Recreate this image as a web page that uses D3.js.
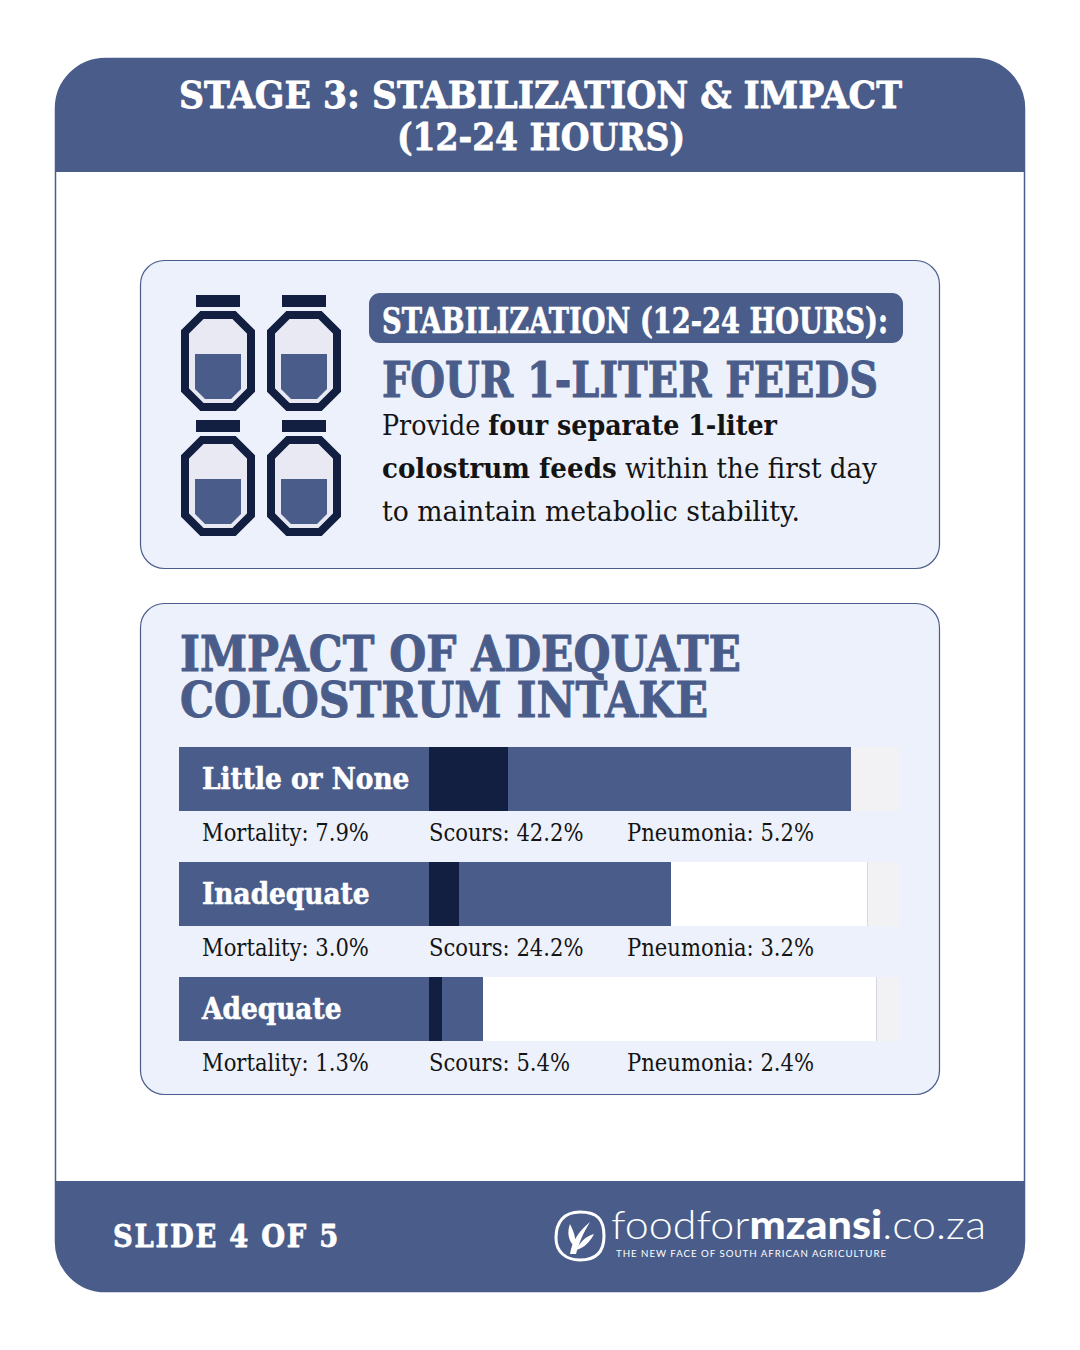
<!DOCTYPE html>
<html>
<head>
<meta charset="utf-8">
<script src="https://cdn.jsdelivr.net/npm/d3@7"></script>
<style>
  html, body { margin: 0; padding: 0; background: #ffffff; }
  svg { display: block; }
</style>
</head>
<body>
<div id="chart"></div>
<script>
// ---------------- DATA ----------------
const categories = ["Little or None", "Inadequate", "Adequate"];
const mortality  = [7.9, 3.0, 1.3];
const scours     = [42.2, 24.2, 5.4];
const pneumonia  = [5.2, 3.2, 2.4];
const trackFill  = [42.0, 43.8, 44.7];   // white inner track extent (same % scale)
const trackMax   = 47.1;                 // end of grey track
const metricNames = ["Mortality", "Scours", "Pneumonia"];
const feeds = [1, 1, 1, 1];              // four 1-liter feeds

// ---------------- STYLE ----------------
const BLUE = "#4a5d8a", NAVY = "#121f40", CARD = "#edf1fb", INK = "#141414";
const SLAB = "'DejaVu Serif', serif";
const SANS = "Lato, 'Open Sans', sans-serif";

const W = 1080, H = 1350;
const svg = d3.select("#chart").append("svg").attr("width", W).attr("height", H);

function fitTo(sel, width) {
  sel.attr("textLength", width).attr("lengthAdjust", "spacingAndGlyphs");
  return sel;
}
function condense(sel, ratio) {
  sel.each(function () {
    const w = this.getComputedTextLength();
    d3.select(this).attr("textLength", w * ratio).attr("lengthAdjust", "spacingAndGlyphs");
  });
  return sel;
}
function heavy(sel, color, sw) {
  return sel.attr("stroke", color).attr("stroke-width", sw).attr("stroke-linejoin", "round");
}

// ---------------- OUTER CARD ----------------
const outer = { x: 55.5, y: 58.5, w: 969, h: 1233, r: 50 };
svg.append("clipPath").attr("id", "outerClip")
  .append("rect").attr("x", outer.x).attr("y", outer.y).attr("width", outer.w)
  .attr("height", outer.h).attr("rx", outer.r);
svg.append("rect").attr("x", outer.x).attr("y", outer.y).attr("width", outer.w)
  .attr("height", outer.h).attr("rx", outer.r).attr("fill", "#fff");
const clipG = svg.append("g").attr("clip-path", "url(#outerClip)");
clipG.append("rect").attr("x", 0).attr("y", 0).attr("width", W).attr("height", 172).attr("fill", BLUE);
clipG.append("rect").attr("x", 0).attr("y", 1181).attr("width", W).attr("height", 200).attr("fill", BLUE);
svg.append("rect").attr("x", outer.x).attr("y", outer.y).attr("width", outer.w)
  .attr("height", outer.h).attr("rx", outer.r).attr("fill", "none")
  .attr("stroke", BLUE).attr("stroke-width", 1.5);

// header title
heavy(fitTo(svg.append("text").attr("x", 179).attr("y", 108).attr("font-family", SLAB)
  .attr("font-weight", "bold").attr("font-size", 37).attr("fill", "#fff")
  .text("STAGE 3: STABILIZATION & IMPACT"), 723), "#fff", 0.8);
heavy(fitTo(svg.append("text").attr("x", 397).attr("y", 150).attr("font-family", SLAB)
  .attr("font-weight", "bold").attr("font-size", 37).attr("fill", "#fff")
  .text("(12-24 HOURS)"), 288), "#fff", 0.8);

// ---------------- CARD 1 ----------------
svg.append("rect").attr("x", 140.5).attr("y", 260.5).attr("width", 799).attr("height", 308)
  .attr("rx", 24).attr("fill", CARD).attr("stroke", BLUE).attr("stroke-width", 1.2);

// bottles
const bottleG = svg.append("g");
const bottleStep = { dx: 86, dy: 125 };
function octagon(x0, y0, w, h, c) {
  const p = d3.path();
  p.moveTo(x0 + c, y0); p.lineTo(x0 + w - c, y0); p.lineTo(x0 + w, y0 + c);
  p.lineTo(x0 + w, y0 + h - c); p.lineTo(x0 + w - c, y0 + h); p.lineTo(x0 + c, y0 + h);
  p.lineTo(x0, y0 + h - c); p.lineTo(x0, y0 + c); p.closePath();
  return p.toString();
}
function liquid(x0, y0, w, h, c) {
  const p = d3.path();
  p.moveTo(x0, y0); p.lineTo(x0 + w, y0); p.lineTo(x0 + w, y0 + h - c);
  p.lineTo(x0 + w - c, y0 + h); p.lineTo(x0 + c, y0 + h); p.lineTo(x0, y0 + h - c); p.closePath();
  return p.toString();
}
feeds.forEach((f, i) => {
  const bx = 181 + (i % 2) * bottleStep.dx;
  const by = 295 + Math.floor(i / 2) * bottleStep.dy;
  const g = bottleG.append("g");
  g.append("rect").attr("x", bx + 15).attr("y", by).attr("width", 44).attr("height", 12).attr("fill", NAVY);
  g.append("path").attr("d", octagon(bx + 4, by + 20, 66, 92, 17))
    .attr("fill", "#e8e9f3").attr("stroke", NAVY).attr("stroke-width", 8).attr("stroke-linejoin", "miter");
  g.append("path").attr("d", liquid(bx + 14, by + 59, 46, 45 * f, 10)).attr("fill", BLUE);
});

// pill
svg.append("rect").attr("x", 369).attr("y", 293).attr("width", 534).attr("height", 50)
  .attr("rx", 11).attr("fill", BLUE);
heavy(fitTo(svg.append("text").attr("x", 382).attr("y", 333).attr("font-family", SLAB)
  .attr("font-weight", "bold").attr("font-size", 36).attr("fill", "#fff")
  .text("STABILIZATION (12-24 HOURS):"), 506), "#fff", 0.7);
heavy(fitTo(svg.append("text").attr("x", 382).attr("y", 397).attr("font-family", SLAB)
  .attr("font-weight", "bold").attr("font-size", 49).attr("fill", BLUE)
  .text("FOUR 1-LITER FEEDS"), 496), BLUE, 1);

const body = [
  { w: 395, parts: [["Provide ", false], ["four separate 1-liter", true]] },
  { w: 495, parts: [["colostrum feeds", true], [" within the first day", false]] },
  { w: 418, parts: [["to maintain metabolic stability.", false]] }
];
body.forEach((ln, i) => {
  const t = svg.append("text").attr("x", 382).attr("y", 435 + i * 43)
    .attr("font-family", SLAB).attr("font-size", 28).attr("fill", INK);
  ln.parts.forEach(([s, b]) => t.append("tspan").attr("font-weight", b ? "bold" : "normal").text(s));
  fitTo(t, ln.w);
});

// ---------------- CARD 2 ----------------
svg.append("rect").attr("x", 140.5).attr("y", 603.5).attr("width", 799).attr("height", 491)
  .attr("rx", 24).attr("fill", CARD).attr("stroke", BLUE).attr("stroke-width", 1.2);
heavy(fitTo(svg.append("text").attr("x", 180).attr("y", 671).attr("font-family", SLAB)
  .attr("font-weight", "bold").attr("font-size", 48).attr("fill", BLUE)
  .text("IMPACT OF ADEQUATE"), 561), BLUE, 1);
heavy(fitTo(svg.append("text").attr("x", 180).attr("y", 717).attr("font-family", SLAB)
  .attr("font-weight", "bold").attr("font-size", 48).attr("fill", BLUE)
  .text("COLOSTRUM INTAKE"), 528), BLUE, 1);

// bars
const rows = categories.map((c, i) => ({
  cat: c, mort: mortality[i], sc: scours[i], pn: pneumonia[i], track: trackFill[i]
}));
const bh = 64;
const y = d3.scaleBand().domain(categories).range([747, 747 + 115 * 2 + bh])
  .paddingInner((115 - bh) / 115).paddingOuter(0);
const x = d3.scaleLinear().domain([0, trackMax]).range([429, 900]);
const labelX0 = 179;

const rowG = svg.append("g").selectAll("g").data(rows).join("g")
  .attr("transform", d => `translate(0,${y(d.cat)})`);
rowG.append("rect").attr("x", labelX0).attr("y", 0).attr("width", x(0) - labelX0).attr("height", y.bandwidth()).attr("fill", BLUE);
rowG.append("rect").attr("x", x(0)).attr("y", 0).attr("width", x(trackMax) - x(0)).attr("height", y.bandwidth()).attr("fill", "#f2f2f4");
rowG.append("rect").attr("x", x(0)).attr("y", 0).attr("width", d => x(d.track) - x(0)).attr("height", y.bandwidth()).attr("fill", "#ffffff");
rowG.append("line").attr("x1", d => x(d.track) + 0.5).attr("x2", d => x(d.track) + 0.5)
  .attr("y1", 0).attr("y2", y.bandwidth()).attr("stroke", "#d4d8e2").attr("stroke-width", 1);
rowG.append("rect").attr("x", x(0)).attr("y", 0).attr("width", d => x(d.sc) - x(0)).attr("height", y.bandwidth()).attr("fill", BLUE);
rowG.append("rect").attr("x", x(0)).attr("y", 0).attr("width", d => x(d.mort) - x(0)).attr("height", y.bandwidth()).attr("fill", NAVY);

const catText = rowG.append("text").attr("x", 202).attr("y", 42)
  .attr("font-family", SLAB).attr("font-weight", "bold").attr("font-size", 29).attr("fill", "#fff")
  .text(d => d.cat);
condense(catText, 0.91);
heavy(catText, "#fff", 0.6);

const metricX = [202, 429, 627];
rowG.each(function (d) {
  const g = d3.select(this);
  const vals = [d.mort, d.sc, d.pn];
  vals.forEach((v, k) => {
    const t = g.append("text").attr("x", metricX[k]).attr("y", bh + 30)
      .attr("font-family", SLAB).attr("font-size", 24).attr("fill", INK)
      .text(`${metricNames[k]}: ${v.toFixed(1)}%`);
    condense(t, 0.88);
  });
});

// ---------------- FOOTER ----------------
heavy(fitTo(svg.append("text").attr("x", 113).attr("y", 1247).attr("font-family", SLAB)
  .attr("font-weight", "bold").attr("font-size", 32).attr("fill", "#fff")
  .attr("letter-spacing", 2).text("SLIDE 4 OF 5"), 227), "#fff", 0.8);

// logo icon
const logo = svg.append("g").attr("transform", "translate(554,1210)");
logo.append("path")
  .attr("d", "M26,2 C44,2 50,10 50,26 C50,42 42,50 26,50 C12,50 2,42 2,28 C2,12 10,2 26,2 Z")
  .attr("fill", "none").attr("stroke", "#fff").attr("stroke-width", 3);
logo.append("path").attr("d", "M16,44 C18,32 24,22 36,12 C30,22 26,30 22,44 Z").attr("fill", "#fff");
logo.append("path").attr("d", "M20,36 C14,30 13,22 16,14 C20,22 22,28 21,35 Z").attr("fill", "#fff");
logo.append("path").attr("d", "M22,40 C30,38 36,32 40,24 C32,26 26,32 22,40 Z").attr("fill", "#fff");

const lt = svg.append("text").attr("x", 611).attr("y", 1239).attr("font-family", SANS)
  .attr("font-size", 39).attr("fill", "#fff");
lt.append("tspan").attr("font-weight", 300).text("foodfor");
lt.append("tspan").attr("font-weight", 900).text("mzansi");
lt.append("tspan").attr("font-weight", 300).text(".co.za");
fitTo(lt, 375);
fitTo(svg.append("text").attr("x", 616).attr("y", 1257).attr("font-family", SANS)
  .attr("font-size", 10).attr("fill", "#fff").attr("letter-spacing", 1)
  .text("THE NEW FACE OF SOUTH AFRICAN AGRICULTURE"), 271);
</script>
</body>
</html>
